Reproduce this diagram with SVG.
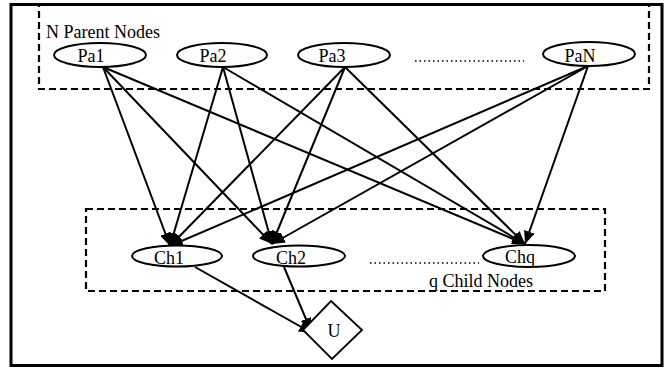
<svg xmlns="http://www.w3.org/2000/svg" width="664" height="368" viewBox="0 0 664 368">
<style>
.node{fill:#fff;stroke:#000;stroke-width:2}
.lbl{font-family:"Liberation Serif","Times New Roman",serif;font-size:18px;fill:#000;text-anchor:middle}
.grp{font-family:"Liberation Serif","Times New Roman",serif;font-size:18px;fill:#000}
.box{fill:none;stroke:#000;stroke-width:2.2;stroke-dasharray:7 4}
.dots{fill:none;stroke:#000;stroke-width:1.6;stroke-dasharray:1.5 3}
.edge{fill:none;stroke:#000;stroke-width:2;marker-end:url(#ah)}
</style>
<defs>
<marker id="ah" markerUnits="userSpaceOnUse" markerWidth="14" markerHeight="11" refX="13" refY="5.5" orient="auto">
<path d="M0,0 L13,5.5 L0,11 z" fill="#000"/>
</marker>
</defs>
<rect x="0" y="0" width="664" height="368" fill="#fff"/>
<rect x="11" y="4.5" width="651" height="361" fill="none" stroke="#000" stroke-width="3"/>
<g id="parent-group">
<rect class="box" x="39" y="5" width="610" height="84"/>
<text class="grp" x="46" y="38">N Parent Nodes</text>
<line class="dots" x1="415" y1="61" x2="524" y2="61"/>
</g>
<g id="child-group">
<rect class="box" x="86" y="209" width="519" height="82"/>
<text class="grp" x="429" y="287">q Child Nodes</text>
<line class="dots" x1="370" y1="263" x2="479" y2="263"/>
</g>
<g id="connectors">
<line class="edge" x1="103" y1="67" x2="170" y2="246"/>
<line class="edge" x1="103" y1="67" x2="272" y2="244"/>
<line class="edge" x1="103" y1="67" x2="525" y2="244"/>
<line class="edge" x1="223" y1="67" x2="170" y2="246"/>
<line class="edge" x1="223" y1="67" x2="272" y2="244"/>
<line class="edge" x1="223" y1="67" x2="525" y2="244"/>
<line class="edge" x1="345" y1="67" x2="170" y2="246"/>
<line class="edge" x1="345" y1="67" x2="272" y2="244"/>
<line class="edge" x1="345" y1="67" x2="525" y2="244"/>
<line class="edge" x1="588" y1="66" x2="170" y2="246"/>
<line class="edge" x1="588" y1="66" x2="272" y2="244"/>
<line class="edge" x1="588" y1="66" x2="525" y2="244"/>
<line class="edge" x1="195" y1="267" x2="312" y2="333"/>
<line class="edge" x1="284" y1="267" x2="311" y2="331"/>
</g>
<g id="Pa1"><ellipse class="node" cx="100" cy="55" rx="46" ry="12"/><text class="lbl" x="91" y="62">Pa1</text></g>
<g id="Pa2"><ellipse class="node" cx="222" cy="55" rx="45" ry="12"/><text class="lbl" x="213" y="62">Pa2</text></g>
<g id="Pa3"><ellipse class="node" cx="344" cy="55" rx="46" ry="12"/><text class="lbl" x="332" y="62">Pa3</text></g>
<g id="PaN"><ellipse class="node" cx="589" cy="54" rx="46" ry="12"/><text class="lbl" x="580" y="62">PaN</text></g>
<g id="Ch1"><ellipse class="node" cx="177" cy="256" rx="45" ry="10.5"/><text class="lbl" x="169" y="264">Ch1</text></g>
<g id="Ch2"><ellipse class="node" cx="299" cy="256" rx="46" ry="10.5"/><text class="lbl" x="291" y="264">Ch2</text></g>
<g id="Chq"><ellipse class="node" cx="529" cy="256" rx="46" ry="11"/><text class="lbl" x="520" y="263">Chq</text></g>
<g id="U"><polygon points="331,301 362,330 332,359 303,330" fill="#fff" stroke="#000" stroke-width="1.8"/><text class="lbl" x="334" y="337">U</text></g>
</svg>
